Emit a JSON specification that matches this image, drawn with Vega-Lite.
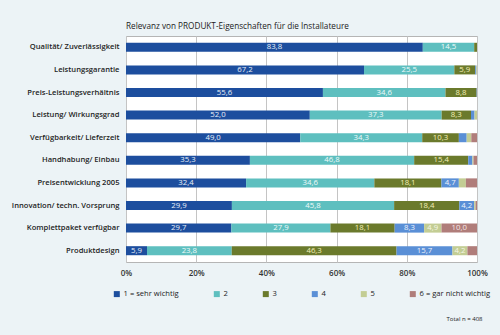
{
  "$schema": "https://vega.github.io/schema/vega-lite/v6.json",
  "autosize": {"type": "none"},
  "width": 351,
  "height": 226,
  "padding": {"left": 126, "top": 36, "right": 23, "bottom": 73},
  "background": "#ecf3f6",
  "title": {"text": "Relevanz von PRODUKT-Eigenschaften für die Installateure", "anchor": "start", "frame": "group", "font": "Open Sans", "fontSize": 8.2, "fontWeight": "normal", "color": "#222222", "offset": 5},
  "config": {
    "font": "Open Sans",
    "view": {"fill": "white", "stroke": "#b5b5b5"},
    "locale": {"number": {"decimal": ",", "thousands": ".", "grouping": [3], "currency": ["", " €"]}}
  },
  "data": {"values": [
    {"p": "Qualität/ Zuverlässigkeit", "k": "1 = sehr wichtig", "v": 83.8},
    {"p": "Qualität/ Zuverlässigkeit", "k": "2", "v": 14.5},
    {"p": "Qualität/ Zuverlässigkeit", "k": "3", "v": 0.8},
    {"p": "Leistungsgarantie", "k": "1 = sehr wichtig", "v": 67.2},
    {"p": "Leistungsgarantie", "k": "2", "v": 25.5},
    {"p": "Leistungsgarantie", "k": "3", "v": 5.9},
    {"p": "Leistungsgarantie", "k": "4", "v": 0.3},
    {"p": "Leistungsgarantie", "k": "5", "v": 0.2},
    {"p": "Preis-Leistungsverhältnis", "k": "1 = sehr wichtig", "v": 55.6},
    {"p": "Preis-Leistungsverhältnis", "k": "2", "v": 34.6},
    {"p": "Preis-Leistungsverhältnis", "k": "3", "v": 8.8},
    {"p": "Preis-Leistungsverhältnis", "k": "4", "v": 0.1},
    {"p": "Leistung/ Wirkungsgrad", "k": "1 = sehr wichtig", "v": 52.0},
    {"p": "Leistung/ Wirkungsgrad", "k": "2", "v": 37.3},
    {"p": "Leistung/ Wirkungsgrad", "k": "3", "v": 8.3},
    {"p": "Leistung/ Wirkungsgrad", "k": "4", "v": 1.0},
    {"p": "Leistung/ Wirkungsgrad", "k": "5", "v": 0.7},
    {"p": "Verfügbarkeit/ Lieferzeit", "k": "1 = sehr wichtig", "v": 49.0},
    {"p": "Verfügbarkeit/ Lieferzeit", "k": "2", "v": 34.3},
    {"p": "Verfügbarkeit/ Lieferzeit", "k": "3", "v": 10.3},
    {"p": "Verfügbarkeit/ Lieferzeit", "k": "4", "v": 2.2},
    {"p": "Verfügbarkeit/ Lieferzeit", "k": "5", "v": 1.3},
    {"p": "Verfügbarkeit/ Lieferzeit", "k": "6 = gar nicht wichtig", "v": 1.6},
    {"p": "Handhabung/ Einbau", "k": "1 = sehr wichtig", "v": 35.3},
    {"p": "Handhabung/ Einbau", "k": "2", "v": 46.8},
    {"p": "Handhabung/ Einbau", "k": "3", "v": 15.4},
    {"p": "Handhabung/ Einbau", "k": "4", "v": 1.2},
    {"p": "Handhabung/ Einbau", "k": "5", "v": 0.3},
    {"p": "Handhabung/ Einbau", "k": "6 = gar nicht wichtig", "v": 1.0},
    {"p": "Preisentwicklung 2005", "k": "1 = sehr wichtig", "v": 32.4},
    {"p": "Preisentwicklung 2005", "k": "2", "v": 34.6},
    {"p": "Preisentwicklung 2005", "k": "3", "v": 18.1},
    {"p": "Preisentwicklung 2005", "k": "4", "v": 4.7},
    {"p": "Preisentwicklung 2005", "k": "5", "v": 1.9},
    {"p": "Preisentwicklung 2005", "k": "6 = gar nicht wichtig", "v": 3.0},
    {"p": "Innovation/ techn. Vorsprung", "k": "1 = sehr wichtig", "v": 29.9},
    {"p": "Innovation/ techn. Vorsprung", "k": "2", "v": 45.8},
    {"p": "Innovation/ techn. Vorsprung", "k": "3", "v": 18.4},
    {"p": "Innovation/ techn. Vorsprung", "k": "4", "v": 4.2},
    {"p": "Innovation/ techn. Vorsprung", "k": "5", "v": 0.4},
    {"p": "Innovation/ techn. Vorsprung", "k": "6 = gar nicht wichtig", "v": 0.4},
    {"p": "Komplettpaket verfügbar", "k": "1 = sehr wichtig", "v": 29.7},
    {"p": "Komplettpaket verfügbar", "k": "2", "v": 27.9},
    {"p": "Komplettpaket verfügbar", "k": "3", "v": 18.1},
    {"p": "Komplettpaket verfügbar", "k": "4", "v": 8.3},
    {"p": "Komplettpaket verfügbar", "k": "5", "v": 4.9},
    {"p": "Komplettpaket verfügbar", "k": "6 = gar nicht wichtig", "v": 10.0},
    {"p": "Produktdesign", "k": "1 = sehr wichtig", "v": 5.9},
    {"p": "Produktdesign", "k": "2", "v": 23.8},
    {"p": "Produktdesign", "k": "3", "v": 46.3},
    {"p": "Produktdesign", "k": "4", "v": 15.7},
    {"p": "Produktdesign", "k": "5", "v": 4.2},
    {"p": "Produktdesign", "k": "6 = gar nicht wichtig", "v": 2.7}
  ]},
  "transform": [
    {"stack": "v", "groupby": ["p"], "sort": [{"field": "k", "order": "ascending"}], "offset": "normalize", "as": ["x0", "x1"]},
    {"calculate": "(datum.x0 + datum.x1) / 2", "as": "mid"}
  ],
  "encoding": {
    "y": {
      "field": "p", "type": "nominal", "sort": null,
      "scale": {"paddingInner": 0.6, "paddingOuter": 0.3},
      "axis": {"title": null, "domain": false, "ticks": false, "labelPadding": 7, "labelFontSize": 7.6, "labelColor": "#1e1e1e", "labelFont": "Open Sans", "labelFontWeight": 600}
    }
  },
  "layer": [
    {
      "mark": {"type": "bar"},
      "encoding": {
        "x": {
          "field": "x0", "type": "quantitative", "scale": {"domain": [0, 1], "nice": false},
          "axis": {"format": "%", "values": [0, 0.2, 0.4, 0.6, 0.8, 1], "grid": true, "gridColor": "#c4c4c4", "domain": false, "ticks": false, "labelPadding": 7, "labelFontSize": 8, "labelFontWeight": 600, "labelColor": "#333333", "labelFlush": false,
                   "title": "Total n = 408", "titleFontSize": 6, "titleFontWeight": "normal", "titleColor": "#222222", "titleAlign": "right", "titleX": 356, "titleY": 56, "titleBaseline": "middle"}
        },
        "x2": {"field": "x1"},
        "color": {
          "field": "k", "type": "nominal",
          "scale": {"domain": ["1 = sehr wichtig", "2", "3", "4", "5", "6 = gar nicht wichtig"], "range": ["#1d4e9e", "#5ebfbf", "#6b7a2c", "#5a8fd6", "#c3cd94", "#b07d7a"]},
          "legend": {"title": null, "orient": "none", "legendX": -13, "legendY": 254, "direction": "horizontal", "symbolType": "square", "symbolSize": 36, "symbolStrokeWidth": 0, "labelFontSize": 7.6, "labelColor": "#222222", "columnPadding": 34, "labelOffset": 3}
        }
      }
    },
    {
      "transform": [{"filter": "datum.v >= 4"}],
      "mark": {"type": "text", "fontSize": 7.8, "baseline": "middle", "align": "center"},
      "encoding": {
        "x": {"field": "mid", "type": "quantitative"},
        "text": {"field": "v", "type": "quantitative", "format": ".1f"},
        "color": {
          "field": "k", "type": "nominal", "legend": null,
          "scale": {"domain": ["1 = sehr wichtig", "2", "3", "4", "5", "6 = gar nicht wichtig"], "range": ["#e8eef8", "#eefafa", "#f4efb8", "#eef3fb", "#f5f7e6", "#f5e8e8"]}
        }
      }
    }
  ],
  "resolve": {"scale": {"color": "independent"}}
}
